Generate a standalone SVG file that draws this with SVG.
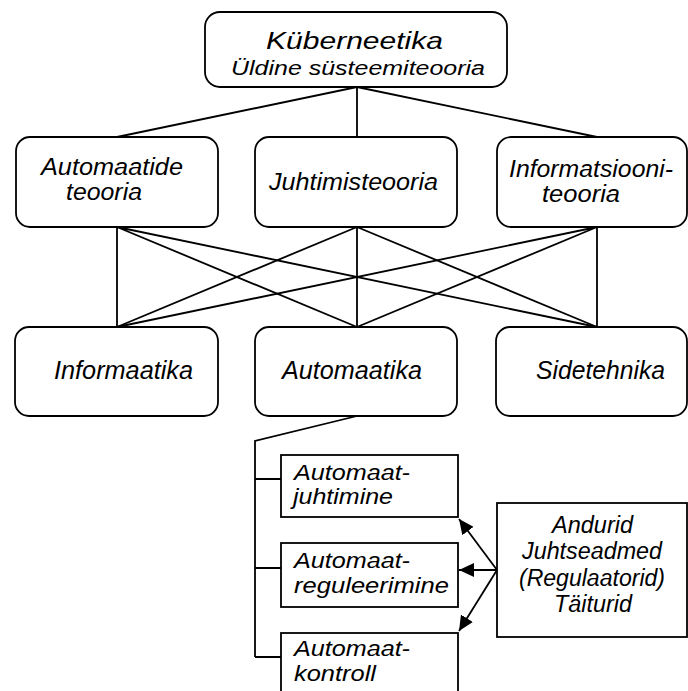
<svg xmlns="http://www.w3.org/2000/svg" width="688" height="691" viewBox="0 0 688 691">
  <style>
    .box { fill: #ffffff; stroke: #000000; stroke-width: 1.8; }
    .wire { fill: none; stroke: #000000; stroke-width: 1.8; }
    .lbl { font-family: "Liberation Sans", Arial, sans-serif; font-style: italic; fill: #000000; }
  </style>
  <defs>
    <marker id="arrow" viewBox="0 0 15 14" refX="15" refY="7" markerWidth="15" markerHeight="14" markerUnits="userSpaceOnUse" orient="auto">
      <path d="M0,0 L15,7 L0,14 z" fill="#000000"/>
    </marker>
  </defs>
  <rect width="688" height="691" fill="#ffffff"/>

  <!-- connectors -->
  <g id="connectors" class="wire">
    <path d="M357,87 L117,137 M357,87 V137 M357,87 L597,137"/>
    <path d="M117,227 L117,327 M117,227 L357,327 M117,227 L597,327"/>
    <path d="M357,227 L117,327 M357,227 L357,327 M357,227 L597,327"/>
    <path d="M597,227 L117,327 M597,227 L357,327 M597,227 L597,327"/>
    <path d="M357,416 L255,441 V657 M255,479 H281 M255,568 H281 M255,657 H281"/>
    <path d="M497,570 L459,519" marker-end="url(#arrow)"/>
    <path d="M497,570 L459,570" marker-end="url(#arrow)"/>
    <path d="M497,570 L459,631" marker-end="url(#arrow)"/>
  </g>

  <!-- top level -->
  <g id="kybernetika">
    <rect class="box" x="205" y="12" width="302" height="75" rx="15"/>
    <text class="lbl">
      <tspan x="266" y="49" font-size="24" textLength="177" lengthAdjust="spacingAndGlyphs">Küberneetika</tspan>
      <tspan x="231" y="75" font-size="19.5" textLength="254" lengthAdjust="spacingAndGlyphs">Üldine süsteemiteooria</tspan>
    </text>
  </g>

  <!-- theories -->
  <g id="automaatide-teooria">
    <rect class="box" x="16" y="137" width="202" height="90" rx="14"/>
    <text class="lbl" font-size="24.5">
      <tspan x="41" y="175" textLength="142" lengthAdjust="spacingAndGlyphs">Automaatide</tspan>
      <tspan x="66" y="200" textLength="76" lengthAdjust="spacingAndGlyphs">teooria</tspan>
    </text>
  </g>
  <g id="juhtimisteooria">
    <rect class="box" x="255" y="137" width="202" height="90" rx="14"/>
    <text class="lbl" x="269" y="190" font-size="24.5" textLength="169" lengthAdjust="spacingAndGlyphs">Juhtimisteooria</text>
  </g>
  <g id="informatsiooniteooria">
    <rect class="box" x="497" y="137" width="190" height="90" rx="14"/>
    <text class="lbl" font-size="24.5">
      <tspan x="509" y="177" textLength="164" lengthAdjust="spacingAndGlyphs">Informatsiooni-</tspan>
      <tspan x="542" y="202" textLength="78" lengthAdjust="spacingAndGlyphs">teooria</tspan>
    </text>
  </g>

  <!-- applied fields -->
  <g id="informaatika">
    <rect class="box" x="15" y="327" width="203" height="89" rx="14"/>
    <text class="lbl" x="54" y="379" font-size="25" textLength="139" lengthAdjust="spacingAndGlyphs">Informaatika</text>
  </g>
  <g id="automaatika">
    <rect class="box" x="255" y="327" width="202" height="89" rx="14"/>
    <text class="lbl" x="282" y="379" font-size="25" textLength="140" lengthAdjust="spacingAndGlyphs">Automaatika</text>
  </g>
  <g id="sidetehnika">
    <rect class="box" x="496" y="327" width="191" height="89" rx="14"/>
    <text class="lbl" x="536" y="379" font-size="25" textLength="129" lengthAdjust="spacingAndGlyphs">Sidetehnika</text>
  </g>

  <!-- branches of automation -->
  <g id="automaatjuhtimine">
    <rect class="box" x="281" y="455" width="177" height="62"/>
    <text class="lbl" font-size="21.5">
      <tspan x="294" y="480" textLength="116" lengthAdjust="spacingAndGlyphs">Automaat-</tspan>
      <tspan x="293" y="504" textLength="100" lengthAdjust="spacingAndGlyphs">juhtimine</tspan>
    </text>
  </g>
  <g id="automaatreguleerimine">
    <rect class="box" x="281" y="543" width="177" height="64"/>
    <text class="lbl" font-size="21.5">
      <tspan x="294" y="568" textLength="116" lengthAdjust="spacingAndGlyphs">Automaat-</tspan>
      <tspan x="294" y="593" textLength="155" lengthAdjust="spacingAndGlyphs">reguleerimine</tspan>
    </text>
  </g>
  <g id="automaatkontroll">
    <rect class="box" x="281" y="633" width="177" height="80"/>
    <text class="lbl" font-size="21.5">
      <tspan x="294" y="656" textLength="116" lengthAdjust="spacingAndGlyphs">Automaat-</tspan>
      <tspan x="294" y="681" textLength="82" lengthAdjust="spacingAndGlyphs">kontroll</tspan>
    </text>
  </g>

  <!-- devices -->
  <g id="seadmed">
    <rect class="box" x="497" y="503" width="190" height="134"/>
    <text class="lbl" font-size="23">
      <tspan x="552" y="533" textLength="81" lengthAdjust="spacingAndGlyphs">Andurid</tspan>
      <tspan x="522" y="559" textLength="140" lengthAdjust="spacingAndGlyphs">Juhtseadmed</tspan>
      <tspan x="519" y="586" textLength="146" lengthAdjust="spacingAndGlyphs">(Regulaatorid)</tspan>
      <tspan x="554" y="612" textLength="78" lengthAdjust="spacingAndGlyphs">Täiturid</tspan>
    </text>
  </g>
</svg>
